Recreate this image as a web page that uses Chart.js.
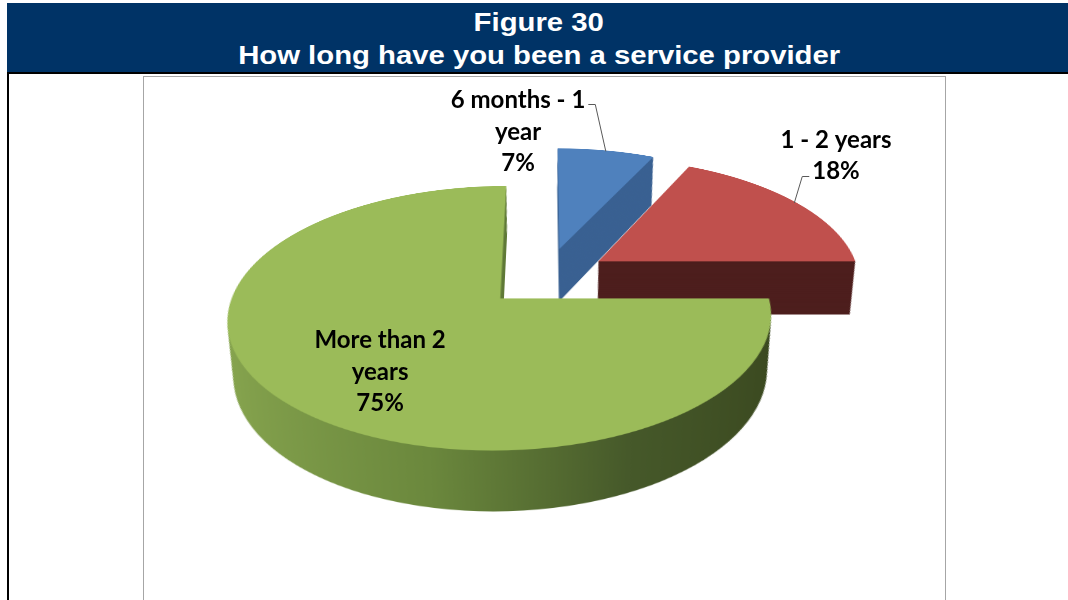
<!DOCTYPE html>
<html>
<head>
<meta charset="utf-8">
<title>Figure 30</title>
<script src="https://cdn.jsdelivr.net/npm/chart.js@4.4.1/dist/chart.umd.min.js"></script>
<style>
    html, body { margin: 0; padding: 0; background: #fff; }
    body { position: relative; width: 1068px; height: 600px; overflow: hidden; font-family: 'Liberation Sans', Arial, sans-serif; }
    #header { position: absolute; left: 7px; top: 3px; width: 1061px; height: 69px; background: #003366; z-index: 3; }
    .head-line { position: absolute; left: -7px; width: 1078px; text-align: center; color: #fff; font-weight: bold; font-size: 25.5px; line-height: 25.5px; white-space: nowrap; }
    .head-line span { display: inline-block; transform: scaleX(1.148); }
    #frame { position: absolute; left: 7px; top: 72px; width: 1100px; height: 600px; border-top: 2px solid #000; border-left: 2px solid #000; }
    #plot-box { position: absolute; left: 143px; top: 76px; width: 801px; height: 600px; border: 1px solid #a6a6a6; }
    #pie-wrap { position: absolute; width: 700px; height: 800px; z-index: 1; }
    #labels { position: absolute; left: 0; top: 0; z-index: 2; }
</style>
</head>
<body>
<div id="header">
    <div class="head-line" style="top: 7px;"><span>Figure 30</span></div>
    <div class="head-line" style="top: 40px;"><span>How long have you been a service provider</span></div>
</div>
<div id="frame"></div>
<div id="plot-box"></div>
<div id="pie-wrap"><canvas id="pie" width="700" height="800"></canvas></div>
<canvas id="labels" width="1068" height="600"></canvas>

<script>
const categories = ['6 months - 1 year', '1 - 2 years', 'More than 2 years'];
const categoryLines = [['6 months - 1', 'year'], ['1 - 2 years'], ['More than 2', 'years']];
const shares = [7, 18, 75];

const topColors = ['#4f81bd', '#c0504d', '#9bbb59'];
const sideColors = ['#3a6192', '#4d1e1d', null];   // null -> shaded wall gradient
const wallStops = [[0, '#87a54f'], [0.4, '#6b883d'], [0.72, '#46592a'], [1, '#3b4920']];

// 3d view
const RADIUS = 262;
const EXPLODE = 63;
const DEPTH = 62;
const TILT = 62 * Math.PI / 180;
const PERSP = 1583;
const PIE_CENTER = { x: 546, y: 277 };

// where the text blocks sit, in radius units around the pie centre (flat plane)
const labelSpots = [[-0.129, -1.426], [1.293, -1.150], [-0.569, 0.695]];
const leaders = [{ line: 0, side: 1 }, { line: 1, side: -1 }, null];
const LABEL_FONT = 'bold 24px Lato';
const LINE_H = 31.5;

function explodeVec(arc) {
    const mid = (arc.startAngle + arc.endAngle) / 2;
    return { x: Math.cos(mid) * EXPLODE, y: Math.sin(mid) * EXPLODE };
}

// draw an arc element with another fill, shifted by the explode vector and
// lowered by depth h (a vertical drop of the tilted disc maps to a scale + shift)
function paintArc(ctx, arc, h, fill) {
    const k = PERSP * Math.cos(TILT);
    const a = k / (k + h);
    const b = PERSP * h * Math.sin(TILT) / (k + h);
    const ev = explodeVec(arc);
    const el = Object.create(arc);
    el.options = Object.assign({}, arc.options, { backgroundColor: fill, borderWidth: 0, offset: 0 });
    ctx.save();
    ctx.translate(arc.x, arc.y + b);
    ctx.scale(a, a);
    ctx.translate(-arc.x + ev.x, -arc.y + ev.y);
    el.draw(ctx);
    ctx.restore();
}

const pie3d = {
    id: 'pie3d',
    beforeDatasetsDraw(chart) {
        const ctx = chart.ctx;
        const arcs = chart.getDatasetMeta(0).data;
        // slices further back first, the big front slice last
        arcs.forEach((arc, i) => {
            let side = sideColors[i];
            if (!side) {
                side = ctx.createLinearGradient(arc.x - RADIUS, 0, arc.x + RADIUS, 0);
                wallStops.forEach(s => side.addColorStop(s[0], s[1]));
            }
            for (let h = DEPTH; h > 0; h -= 0.75) {
                paintArc(ctx, arc, h, side);
            }
            paintArc(ctx, arc, 0, topColors[i]);
        });
        return false;
    }
};

function project(px, py, cx, cy) {
    const dx = px - cx, dy = py - cy;
    const s = PERSP / (PERSP - dy * Math.sin(TILT));
    return { x: PIE_CENTER.x + dx * s, y: PIE_CENTER.y + dy * Math.cos(TILT) * s };
}

function drawLabels(chart) {
    const ctx = document.getElementById('labels').getContext('2d');
    const arcs = chart.getDatasetMeta(0).data;
    ctx.clearRect(0, 0, 1068, 600);
    ctx.font = LABEL_FONT;
    ctx.textAlign = 'center';
    ctx.textBaseline = 'middle';

    arcs.forEach((arc, i) => {
        const lines = categoryLines[i].concat([shares[i] + '%']);
        const spot = labelSpots[i];
        const c = project(arc.x + spot[0] * RADIUS, arc.y + spot[1] * RADIUS, arc.x, arc.y);
        const y0 = c.y - (lines.length - 1) * LINE_H / 2;

        ctx.fillStyle = '#000';
        lines.forEach((t, j) => ctx.fillText(t, c.x, y0 + j * LINE_H));

        const ld = leaders[i];
        if (!ld) return;
        const mid = (arc.startAngle + arc.endAngle) / 2;
        const ev = explodeVec(arc);
        const tip = project(arc.x + ev.x + Math.cos(mid) * RADIUS * 0.99,
                            arc.y + ev.y + Math.sin(mid) * RADIUS * 0.99, arc.x, arc.y);
        const w = ctx.measureText(lines[ld.line]).width;
        const ly = Math.round(y0 + ld.line * LINE_H + 4) + 0.5;
        const x1 = c.x + ld.side * (w / 2 + 3);
        const x2 = x1 + ld.side * 7;
        ctx.strokeStyle = '#595959';
        ctx.lineWidth = 1;
        ctx.beginPath();
        ctx.moveTo(x1, ly);
        ctx.lineTo(x2, ly);
        ctx.lineTo(tip.x, tip.y);
        ctx.stroke();
    });
}

const chart = new Chart(document.getElementById('pie'), {
    type: 'pie',
    data: {
        labels: categories,
        datasets: [{
            data: shares,
            backgroundColor: topColors,
            borderWidth: 0,
            radius: RADIUS
        }]
    },
    options: {
        responsive: false,
        devicePixelRatio: 2,
        animation: false,
        layout: { padding: { bottom: 100 } },
        plugins: {
            legend: { display: false },
            tooltip: { enabled: false }
        }
    },
    plugins: [pie3d]
});

// tilt the flat pie into place, pivoting on its centre
const centre = chart.getDatasetMeta(0).data[0];
const wrap = document.getElementById('pie-wrap');
wrap.style.left = (PIE_CENTER.x - centre.x) + 'px';
wrap.style.top = (PIE_CENTER.y - centre.y) + 'px';
wrap.style.transformOrigin = centre.x + 'px ' + centre.y + 'px';
wrap.style.transform = 'perspective(' + PERSP + 'px) rotateX(' + (TILT * 180 / Math.PI) + 'deg)';

document.fonts.load(LABEL_FONT).then(() => drawLabels(chart), () => drawLabels(chart));
</script>
</body>
</html>
